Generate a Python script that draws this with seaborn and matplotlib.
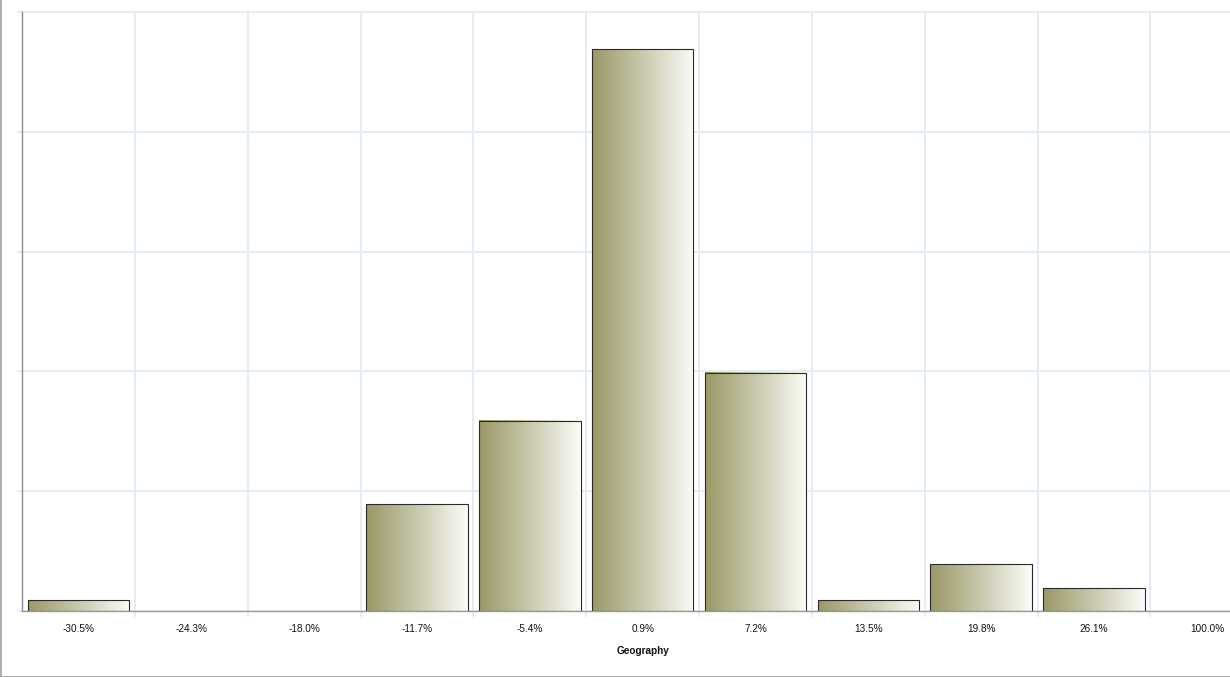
import numpy as np
import pandas as pd
import matplotlib
matplotlib.use("Agg")
import matplotlib.pyplot as plt
from matplotlib.colors import LinearSegmentedColormap
from matplotlib.lines import Line2D
import seaborn as sns

categories = ["-30.5%", "-24.3%", "-18.0%", "-11.7%", "-5.4%", "0.9%",
              "7.2%", "13.5%", "19.8%", "26.1%", "100.0%"]
values = [0.9, 0.0, 0.0, 8.9, 15.9, 46.9, 19.9, 0.9, 3.9, 1.9, 0.0]
x_label = "Geography"
y_ticks = [0, 10, 20, 30, 40, 50]

sns.set_theme(style="white")
plt.rcParams["font.family"] = ["Liberation Sans", "DejaVu Sans"]

W, H = 1230, 677
fig = plt.figure(figsize=(W / 100, H / 100), dpi=100)
ax_l, ax_r, ax_t, ax_b = 22, 22 + 11 * 112.85, 12, 611
ax = fig.add_axes([ax_l / W, (H - ax_b) / H, (ax_r - ax_l) / W, (ax_b - ax_t) / H])

df = pd.DataFrame({"cat": categories, "val": values})
sns.barplot(data=df, x="cat", y="val", order=categories, width=0.9, ax=ax,
            color="white", edgecolor="#2a2a2a", linewidth=0.8, zorder=3)

cmap = LinearSegmentedColormap.from_list("olive", ["#9a9866", "#c9c9ae", "#fcfcf9"])
grad = np.linspace(0, 1, 256).reshape(1, -1)
for p in ax.patches:
    h = p.get_height()
    if h <= 0:
        p.set_visible(False)
        continue
    p.set_facecolor("none")
    x0 = p.get_x()
    x1 = x0 + p.get_width()
    ax.imshow(grad, extent=[x0, x1, 0, h], cmap=cmap, aspect="auto",
              interpolation="bilinear", zorder=2)

ax.set_xlim(-0.5, len(categories) - 0.5)
ax.set_ylim(0, 50)

grid_c = "#e4ecf6"
ax.set_xticks(np.arange(len(categories) - 1) + 0.5, minor=True)
ax.set_yticks(y_ticks)
ax.grid(which="minor", axis="x", color=grid_c, lw=1.4, zorder=0)
ax.grid(which="major", axis="y", color=grid_c, lw=1.4, zorder=0)
ax.grid(which="major", axis="x", visible=False)
ax.tick_params(axis="x", which="major", length=0, pad=9, labelsize=7.2, labelcolor="#111")
ax.tick_params(axis="x", which="minor", bottom=True, length=4.5, width=1.4, color=grid_c)
ax.tick_params(axis="y", which="major", left=True, length=3.6, width=1.4, color=grid_c,
               labelleft=False)
ax.set_ylabel("")
ax.set_xlabel(x_label, fontsize=7.2, fontweight="bold", labelpad=9, color="#111")

for s in ["right"]:
    ax.spines[s].set_visible(False)
ax.spines["top"].set_color(grid_c)
ax.spines["top"].set_linewidth(1.4)
ax.spines["left"].set_color("#8c8c8c")
ax.spines["left"].set_linewidth(1.0)
ax.spines["bottom"].set_color("#9a9a9a")
ax.spines["bottom"].set_linewidth(1.0)
ax.spines["left"].set_zorder(4)
ax.spines["bottom"].set_zorder(4)

fig.add_artist(Line2D([0.5 / W, 0.5 / W], [0, 1], transform=fig.transFigure,
                      color="#a0a0a0", lw=1.2))
fig.add_artist(Line2D([0, 1], [0.5 / H, 0.5 / H], transform=fig.transFigure,
                      color="#a0a0a0", lw=1.2))

fig.savefig("out.png", dpi=100, facecolor="white")
